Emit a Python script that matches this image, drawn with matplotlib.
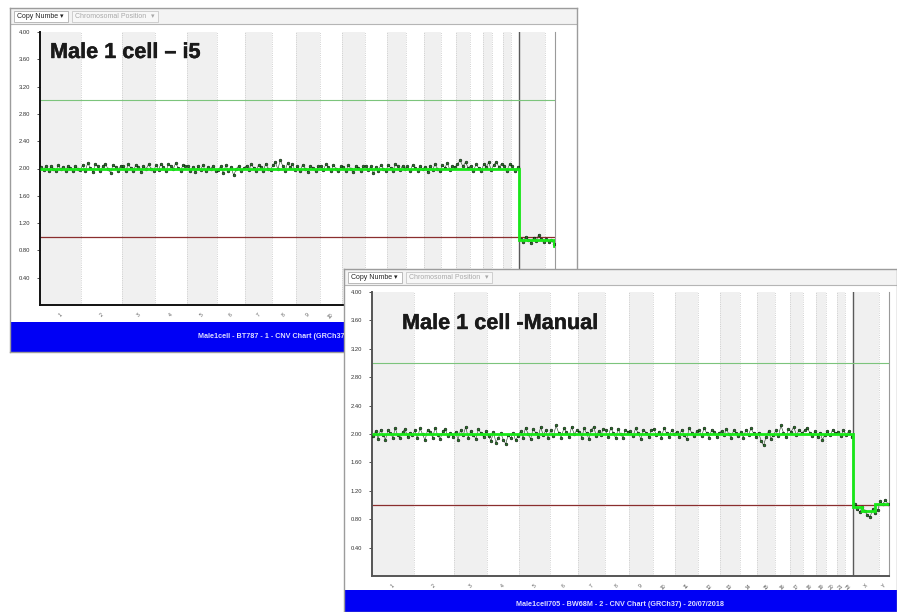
import numpy as np
import matplotlib.pyplot as plt
import matplotlib.patheffects as pe
from matplotlib.patches import Rectangle

plt.rcParams['font.family'] = ['Liberation Sans', 'DejaVu Sans']

W, H = 897, 612

# chromosomes (GRCh37, Mb)
chrom_labels = [str(i) for i in range(1, 23)] + ['X', 'Y']
chrom_len = [249, 243, 198, 191, 181, 171, 159, 146, 141, 136, 135, 134,
             115, 107, 103, 90, 81, 78, 59, 63, 48, 51, 155, 59]

# copy number per bin, chart 1 (i5)
i5_values = [
    [2.02, 1.98, 2.04, 1.97, 2.03, 2.00, 1.96, 2.05, 1.99, 2.02, 1.97, 2.04, 2.01, 1.96, 2.03, 2.00, 1.98],
    [2.05, 1.97, 2.08, 2.01, 1.95, 2.06, 2.03, 1.96, 2.04, 2.07, 1.99, 1.94, 2.05, 2.02, 1.97, 2.04],
    [2.03, 1.96, 2.06, 2.01, 1.97, 2.05, 2.02, 1.95, 2.04, 1.99, 2.06, 2.00, 1.97],
    [2.05, 1.98, 2.07, 2.02, 1.96, 2.06, 2.04, 1.99, 2.08, 2.01, 1.97, 2.05, 2.03],
    [2.04, 1.97, 2.02, 1.95, 2.03, 1.98, 2.05, 1.96, 2.02, 1.99, 2.04, 1.97],
    [1.98, 2.03, 1.93, 2.05, 1.96, 2.02, 1.90, 1.99, 2.04, 1.97, 2.01],
    [2.04, 1.98, 2.06, 2.01, 1.96, 2.05, 2.02, 1.97, 2.07, 2.00, 1.98],
    [2.05, 2.09, 1.99, 2.12, 2.04, 1.97, 2.08, 2.02, 2.06, 1.98],
    [2.03, 1.97, 2.05, 2.00, 1.95, 2.04, 2.01, 1.96, 2.03],
    [2.04, 1.98, 2.06, 2.02, 1.96, 2.05, 2.00, 1.97, 2.03],
    [2.02, 1.97, 2.05, 1.99, 1.95, 2.04, 2.01, 1.96, 2.03],
    [2.04, 1.98, 2.03, 1.93, 2.02, 1.97, 2.05, 2.00, 1.96],
    [2.05, 2.01, 1.97, 2.06, 2.03, 1.98, 2.04, 2.00],
    [2.03, 1.96, 2.05, 2.01, 1.97, 2.04, 1.99],
    [2.02, 1.95, 2.04, 1.98, 2.06, 2.00, 1.96],
    [2.05, 2.01, 2.08, 1.98, 2.04, 2.02],
    [2.06, 2.12, 2.03, 2.09, 2.01],
    [2.04, 1.97, 2.06, 2.01, 1.96],
    [2.07, 2.02, 2.09, 1.98],
    [2.05, 2.10, 2.02, 2.07],
    [2.04, 1.97, 2.06],
    [2.03, 1.96, 2.02],
    [0.97, 0.93, 1.00, 0.95, 0.91, 0.98, 0.94, 1.03, 0.96, 0.92],
    [0.97, 0.93, 0.95, 0.90],
]
i5_seg_edges = [0, 2879, 3088, 3093]
i5_seg_vals = [2.00, 0.95, 0.87]

# copy number per bin, chart 2 (manual)
manual_values = [
    [1.97, 2.04, 1.93, 2.06, 1.99, 1.92, 2.05, 2.01, 1.95, 2.08, 1.98, 1.94, 2.03, 2.07, 1.96, 2.02, 1.99],
    [2.05, 1.94, 2.08, 2.00, 1.91, 2.06, 2.03, 1.95, 2.09, 1.98, 1.93, 2.04, 2.07, 1.97, 2.02, 1.96],
    [2.03, 1.92, 2.06, 1.98, 2.10, 1.95, 2.04, 1.99, 1.93, 2.07, 2.01, 1.96, 2.04],
    [1.97, 1.90, 2.03, 1.88, 1.95, 2.01, 1.92, 1.86, 1.99, 1.94, 2.02, 1.91, 1.97],
    [2.04, 1.95, 2.09, 2.00, 1.93, 2.07, 2.02, 1.96, 2.10, 1.98, 2.05, 1.94],
    [2.06, 1.97, 2.12, 2.02, 1.95, 2.08, 2.03, 1.96, 2.10, 2.00, 2.05],
    [2.03, 1.95, 2.08, 2.01, 1.93, 2.06, 2.10, 1.97, 2.04, 1.99, 2.07],
    [2.05, 1.96, 2.09, 2.02, 1.94, 2.07, 2.00, 1.95, 2.06, 2.03],
    [2.04, 1.97, 2.08, 2.01, 1.93, 2.06, 2.02, 1.96, 2.05],
    [2.07, 1.98, 2.03, 1.95, 2.09, 2.01, 1.96, 2.05, 2.00],
    [2.03, 1.96, 2.06, 1.99, 1.93, 2.08, 2.02, 1.97, 2.04],
    [2.05, 1.97, 2.09, 2.01, 1.94, 2.06, 2.03, 1.96, 2.02],
    [2.04, 1.98, 2.07, 2.00, 1.95, 2.05, 2.02, 1.97],
    [2.03, 1.95, 2.06, 1.99, 2.08, 2.01, 1.96],
    [2.02, 1.90, 1.84, 1.96, 2.04, 1.93, 1.99],
    [2.05, 1.97, 2.12, 2.02, 1.96, 2.07],
    [2.03, 2.10, 1.98, 2.06, 2.01],
    [2.05, 2.09, 2.02, 1.97, 2.04],
    [1.96, 2.02, 1.92, 1.99],
    [2.04, 1.98, 2.06, 2.01],
    [2.03, 1.97, 2.05],
    [1.99, 2.04, 1.96],
    [1.01, 0.95, 0.90, 0.97, 0.92, 0.86, 0.83, 0.94, 0.89, 0.93],
    [1.05, 1.01, 1.07, 1.02],
]
manual_seg_edges = [0, 2879, 2930, 3010, 3093]
manual_seg_vals = [2.00, 0.97, 0.92, 1.01]

y_ticks = [0.40, 0.80, 1.20, 1.60, 2.00, 2.40, 2.80, 3.20, 3.60, 4.00]

fig = plt.figure(figsize=(W / 100, H / 100), dpi=100)


def px_axes(x0, y0, x1, y1):
    return fig.add_axes([x0 / W, 1 - y1 / H, (x1 - x0) / W, (y1 - y0) / H])


def draw_chart(win, plot, title, title_xy, title_size, footer, foot_h,
               values, seg_edges, seg_vals, axis_col):
    # window frame, toolbar and blue footer
    x0, y0, x1, y1 = win
    wa = px_axes(x0, y0, x1, y1)
    wa.set_xlim(x0, x1)
    wa.set_ylim(y1, y0)
    wa.set_xticks([])
    wa.set_yticks([])
    for s in wa.spines.values():
        s.set_color('#9c9c9c')
        s.set_linewidth(1)
    wa.add_patch(Rectangle((x0, y0), x1 - x0, 16, facecolor='#f3f3f3', edgecolor='none'))
    wa.plot([x0, x1], [y0 + 16, y0 + 16], color='#b5b5b5', lw=0.8)
    wa.add_patch(Rectangle((x0 + 4, y0 + 3), 54, 11, facecolor='white', edgecolor='#b0b0b0', lw=0.6))
    wa.add_patch(Rectangle((x0 + 62, y0 + 3), 86, 11, facecolor='#f7f7f7', edgecolor='#c8c8c8', lw=0.6))
    wa.text(x0 + 7, y0 + 8.5, 'Copy Numbe', fontsize=5, color='#222222', va='center')
    wa.text(x0 + 52, y0 + 8.5, '▾', fontsize=5, color='#222222', va='center', ha='center')
    wa.text(x0 + 65, y0 + 8.5, 'Chromosomal Position', fontsize=5, color='#a8a8a8', va='center')
    wa.text(x0 + 143, y0 + 8.5, '▾', fontsize=5, color='#a8a8a8', va='center', ha='center')
    wa.add_patch(Rectangle((x0, y1 - foot_h), x1 - x0, foot_h, facecolor='#0000f5', edgecolor='none'))
    wa.text((x0 + x1) / 2, y1 - foot_h + 15, footer, fontsize=5.2, color='#dcdcff',
            fontweight='bold', ha='center', va='center')

    # chart area
    ax = px_axes(*plot)
    edges = np.concatenate([[0], np.cumsum(chrom_len)])
    for i in range(len(chrom_len)):
        if i % 2 == 0:
            ax.axvspan(edges[i], edges[i + 1], color='#f0f0f0', lw=0, zorder=0)
    for e in edges[1:-1]:
        ax.axvline(e, color='#c4c4c4', ls=':', lw=0.6, zorder=1)
    ax.axvline(edges[22], color='#5a5a5a', lw=1, zorder=2)
    ax.axhline(3.0, color='#7cc47c', lw=0.8, zorder=2)
    ax.axhline(1.0, color='#8a2e2e', lw=0.9, zorder=2)

    xs, ys = [], []
    for i, vals in enumerate(values):
        n = len(vals)
        xs.extend(edges[i] + (np.arange(n) + 0.5) * chrom_len[i] / n)
        ys.extend(vals)
    xs, ys = np.array(xs), np.array(ys)
    auto = xs < edges[22]
    for m in (auto, ~auto):
        ax.plot(xs[m], ys[m], color='#1d3d1d', lw=0.4, zorder=3)
    ax.scatter(xs, ys, s=4, facecolor='#2a7a2a', edgecolor='black', linewidths=0.35, zorder=4)
    ax.stairs(seg_vals, seg_edges, baseline=None, color='#18e818', lw=2, zorder=5)

    ax.set_xlim(0, edges[-1])
    ax.set_ylim(0, 4.0)
    ax.set_yticks(y_ticks, ['%.2f' % v for v in y_ticks])
    ax.tick_params(axis='y', labelsize=4.2, colors='#333333', length=2, width=0.6, pad=5)
    centers = (edges[:-1] + edges[1:]) / 2
    ax.set_xticks(centers, chrom_labels, rotation=45)
    ax.tick_params(axis='x', labelsize=3.6, colors='#555555', length=0, pad=5)
    ax.spines['top'].set_visible(False)
    ax.spines['right'].set_color('#9a9a9a')
    ax.spines['right'].set_linewidth(0.8)
    ax.spines['left'].set_color(axis_col)
    ax.spines['left'].set_linewidth(1.4)
    ax.spines['bottom'].set_color(axis_col)
    ax.spines['bottom'].set_linewidth(1.4)
    ax.set_facecolor('white')

    # big title over the chart area
    ax.text(title_xy[0] / W, 1 - title_xy[1] / H, title, transform=fig.transFigure,
            fontsize=title_size, fontweight='bold', color='#1a1a1a',
            va='baseline', ha='left', zorder=10,
            path_effects=[pe.withStroke(linewidth=0.3, foreground='#1a1a1a')])


draw_chart((10, 8, 577, 352), (40, 32, 555, 305), 'Male 1 cell – i5', (50, 58), 15.6,
           'Male1cell - BT787 - 1 - CNV Chart (GRCh37) - 20/07/2018', 30,
           i5_values, i5_seg_edges, i5_seg_vals, '#111111')
draw_chart((344, 269, 897, 612), (372, 292, 889, 576), 'Male 1 cell -Manual', (402, 329), 15.6,
           'Male1cell705 - BW68M - 2 - CNV Chart (GRCh37) - 20/07/2018', 22,
           manual_values, manual_seg_edges, manual_seg_vals, '#555555')

fig.savefig('out.png', dpi=100)
